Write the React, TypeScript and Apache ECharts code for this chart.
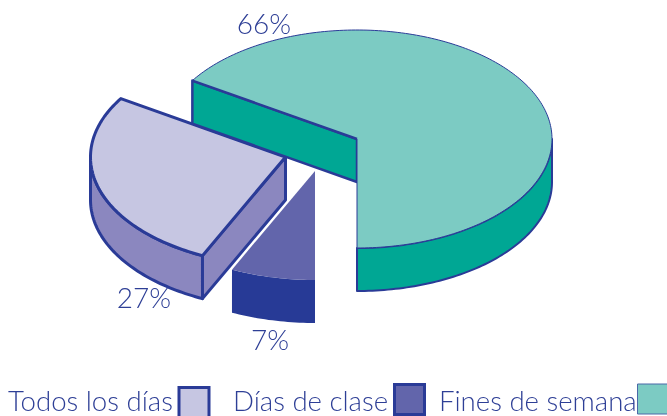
import React, { useEffect, useRef } from "react";
import * as echarts from "echarts";

const categories = ["Fines de semana", "Todos los días", "Días de clase"];
const shares = [66, 27, 7];
const shareLabels = ["66%", "27%", "7%"];
const legendOrder = ["Todos los días", "Días de clase", "Fines de semana"];

const topColors = ["#7ccbc3", "#c6c6e2", "#6265ab"];
const sideColors = ["#00a794", "#8b87bf", "#273a96"];
const INK = "#2a3b97";
const TEXT = "#2e3f96";
const FONT = "Lato";

// layout of the drawing, not data
const RX = 195, RY = 109, DEPTH = 43;
const centers = [[357, 139], [285.5, 157], [315, 171]];
const labelPos = [[264, 23], [144, 297], [270, 339]];
const strokes = [1, 3, 0];
const cutStroke = [2.5, 3, 0];

function pt(c: number[], t: number, dy = 0) {
  return [c[0] + RX * Math.cos(t), c[1] + RY * Math.sin(t) + dy];
}
function arcPts(c: number[], a: number, b: number, dy = 0) {
  const n = Math.max(2, Math.ceil(Math.abs(b - a) / 0.02));
  const out: number[][] = [];
  for (let i = 0; i <= n; i++) out.push(pt(c, a + ((b - a) * i) / n, dy));
  return out;
}

const total = shares.reduce((s, v) => s + v, 0);

function renderSlice(params: any, api: any) {
  const i = api.value(0);
  let before = 0;
  for (let k = 0; k < i; k++) before += shares[k];
  // start at the bottom of the ellipse and run anticlockwise on screen
  const a0 = Math.PI / 2 - (before / total) * 2 * Math.PI;
  const a1 = Math.PI / 2 - ((before + api.value(1)) / total) * 2 * Math.PI;
  const c = centers[i];
  const kids: any[] = [];
  const base = { stroke: strokes[i] ? INK : "none", lineWidth: strokes[i], lineJoin: "round", fill: sideColors[i] };

  // visible outer wall: the part of the arc on the front half (sin t > 0)
  const lo = Math.min(a0, a1), hi = Math.max(a0, a1);
  const ranges: number[][] = [];
  for (const k of [-4, -2, 0, 2]) {
    const s = Math.max(lo, k * Math.PI), e = Math.min(hi, k * Math.PI + Math.PI);
    if (e > s) ranges.push([s, e]);
  }
  for (const [s, e] of ranges) {
    const up = arcPts(c, s, e);
    const dn = arcPts(c, e, s, DEPTH);
    kids.push({ type: "polygon", shape: { points: up.concat(dn) }, style: { ...base, lineWidth: i === 0 ? 2 : base.lineWidth } });
  }
  // visible cut wall
  if (i < 2) {
    const e = pt(c, a1);
    kids.push({ type: "polygon", shape: { points: [e, c, [c[0], c[1] + DEPTH], [e[0], e[1] + DEPTH]] }, style: { ...base, lineWidth: cutStroke[i] } });
  }
  // top face
  kids.push({
    type: "polygon",
    shape: { points: [c, ...arcPts(c, a0, a1)] },
    style: { fill: topColors[i], stroke: strokes[i] ? INK : "none", lineWidth: strokes[i], lineJoin: "round" },
  });
  if (i === 0) {
    const e = pt(c, a1);
    kids.push({ type: "line", shape: { x1: e[0], y1: e[1], x2: c[0], y2: c[1] }, style: { stroke: INK, lineWidth: cutStroke[i] } });
  }
  const lp = labelPos[i];
  kids.push({
    type: "text",
    style: { x: lp[0], y: lp[1], text: shareLabels[i], fill: TEXT, font: `300 28px ${FONT}`, align: "center", verticalAlign: "middle" },
  });
  return { type: "group", children: kids };
}

const legendSwatch = [[179, 387.5], [394.5, 384.5], [637.5, 384]];
const legendText = [8, 233, 439];
const legendIdx = legendOrder.map((n) => categories.indexOf(n));

export default function App() {
  const ref = useRef<HTMLDivElement>(null);
  useEffect(() => {
    const chart = echarts.init(ref.current!, undefined, { renderer: "svg" });
    const graphics: any[] = [];
    legendOrder.forEach((name, k) => {
      const idx = legendIdx[k];
      graphics.push({
        type: "text", x: legendText[k], y: 400,
        style: { text: name, fill: TEXT, font: `300 27.6px ${FONT}`, align: "left", verticalAlign: "middle" },
      });
      graphics.push({
        type: "rect", shape: { x: legendSwatch[k][0], y: legendSwatch[k][1], width: 30, height: 30 },
        style: { fill: topColors[idx], stroke: idx === 0 ? "#4b68a8" : INK, lineWidth: idx === 0 ? 1 : 3 },
      });
    });
    chart.setOption({
      animation: false,
      graphic: graphics,
      series: [2, 1, 0].map((i) => ({
        type: "custom",
        name: categories[i],
        coordinateSystem: "none",
        renderItem: renderSlice,
        data: [[i, shares[i]]],
        silent: true,
        z: 3 - i,
      })),
    });
    return () => chart.dispose();
  }, []);
  return <div ref={ref} style={{ position: "fixed", left: 0, top: 0, width: 667, height: 416 }} />;
}
